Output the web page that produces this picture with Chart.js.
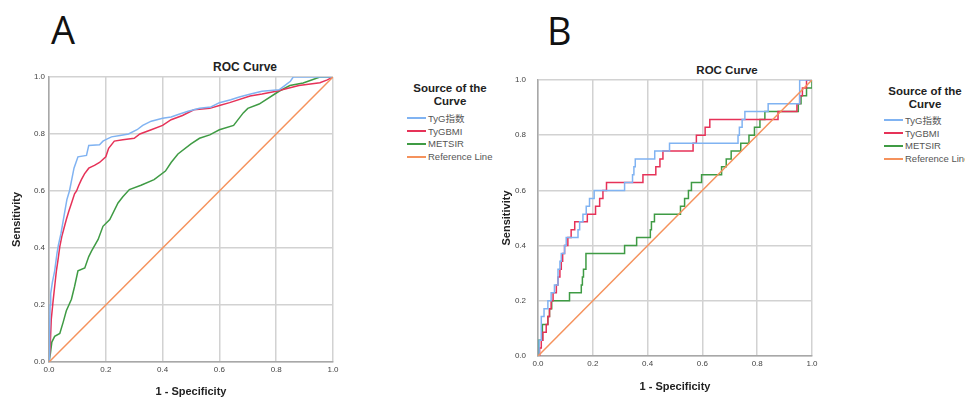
<!DOCTYPE html>
<html lang="en">
<head>
<meta charset="UTF-8" />
<title>ROC Curves</title>
<script src="https://cdn.jsdelivr.net/npm/chart.js"></script>
<style>
  body { margin: 0; background: #fff; font-family: "Liberation Sans", Arial, sans-serif; }
  #wrap { position: relative; width: 965px; height: 400px; overflow: hidden; }
  canvas { position: absolute; top: 0; }
  .letter { position: absolute; font-family: "Open Sans", sans-serif; font-size: 38px; line-height: 1; color: #111; }
  .roc-title { position: absolute; font-weight: bold; color: #222; transform: translateX(-50%); white-space: nowrap; line-height: 1; }
  .legend-title { position: absolute; transform: translateX(-50%); font-weight: bold; font-size: 11.5px;
                  line-height: 12.5px; text-align: center; color: #222; white-space: nowrap; }
  .legend-items { position: absolute; }
  .legend-item { height: 12.8px; display: flex; align-items: center; font-size: 9.5px; color: #555; white-space: nowrap;
                 font-family: "Liberation Sans", Arial, "Noto Sans CJK SC", sans-serif; }
  .legend-item span.swatch { display: inline-block; width: 19px; height: 2px; margin-right: 2px; }
</style>
</head>
<body>
<div id="wrap">
  <div class="letter" style="left:51px; top:10px;">A</div>
  <div class="letter" style="left:547px; top:11px;">B</div>

  <div class="roc-title" style="left:245px; top:61px; font-size:12px;">ROC Curve</div>
  <div class="roc-title" style="left:727px; top:65px; font-size:11.5px;">ROC Curve</div>

  <div class="legend-title" style="left:450px; top:82px;">Source of the<br>Curve</div>
  <div class="legend-items" id="legendA" style="left:407px; top:112px;"></div>
  <div class="legend-title" style="left:925px; top:85px;">Source of the<br>Curve</div>
  <div class="legend-items" id="legendB" style="left:884px; top:114px;"></div>

  <canvas id="chartA" width="345" height="400" style="left:0px;"></canvas>
  <canvas id="chartB" width="332" height="400" style="left:494px;"></canvas>
</div>

<script>
  // tick values shared by both axes of both panels
  const tickValues = [0, 0.2, 0.4, 0.6, 0.8, 1.0];
  const seriesNames = ["TyG指数", "TyGBMI", "METSIR", "Reference Line"];
  const seriesColors = ["#80b3f2", "#e63258", "#3f9b44", "#f5925c"];

  // Panel A (1 - specificity, sensitivity)
  const aTygFpr = [0, 0.002, 0.004, 0.006, 0.012, 0.02, 0.028, 0.033, 0.042, 0.049, 0.056, 0.063, 0.072, 0.08, 0.088,
                   0.095, 0.102, 0.132, 0.14, 0.178, 0.19, 0.2, 0.22, 0.25, 0.28, 0.31, 0.33, 0.36, 0.4, 0.43, 0.46,
                   0.49, 0.53, 0.57, 0.6, 0.64, 0.67, 0.71, 0.75, 0.81, 0.83, 0.85, 0.86, 1.0];
  const aTygTpr = [0, 0.1, 0.2, 0.24, 0.28, 0.32, 0.38, 0.41, 0.45, 0.49, 0.53, 0.57, 0.6, 0.64, 0.68,
                   0.7, 0.72, 0.725, 0.76, 0.762, 0.775, 0.78, 0.79, 0.795, 0.8, 0.815, 0.83, 0.845, 0.855, 0.86, 0.87,
                   0.88, 0.89, 0.895, 0.91, 0.92, 0.93, 0.94, 0.95, 0.955, 0.97, 0.985, 1.0, 1.0];

  const aBmiFpr = [0, 0.004, 0.008, 0.014, 0.02, 0.026, 0.032, 0.038, 0.045, 0.053, 0.061, 0.07, 0.08, 0.09, 0.097,
                   0.105, 0.114, 0.125, 0.14, 0.16, 0.178, 0.2, 0.21, 0.23, 0.26, 0.3, 0.32, 0.36, 0.4, 0.43, 0.47,
                   0.51, 0.566, 0.6, 0.636, 0.708, 0.75, 0.8, 0.88, 0.954, 0.98, 1.0];
  const aBmiTpr = [0, 0.05, 0.15, 0.21, 0.265, 0.32, 0.36, 0.405, 0.44, 0.47, 0.5, 0.53, 0.56, 0.59, 0.6,
                   0.62, 0.64, 0.66, 0.68, 0.69, 0.7, 0.72, 0.75, 0.775, 0.78, 0.785, 0.8, 0.815, 0.83, 0.85, 0.865,
                   0.885, 0.89, 0.9, 0.91, 0.933, 0.94, 0.95, 0.97, 0.98, 0.99, 1.0];

  const aMetFpr = [0, 0.005, 0.01, 0.02, 0.038, 0.05, 0.061, 0.079, 0.09, 0.102, 0.126, 0.14, 0.15, 0.173, 0.19,
                   0.214, 0.243, 0.26, 0.283, 0.324, 0.37, 0.41, 0.43, 0.454, 0.5, 0.53, 0.566, 0.6, 0.65, 0.684,
                   0.7, 0.74, 0.81, 0.848, 0.895, 0.954, 1.0];
  const aMetTpr = [0, 0.03, 0.07, 0.09, 0.1, 0.14, 0.18, 0.22, 0.265, 0.32, 0.33, 0.37, 0.39, 0.43, 0.476,
                   0.5, 0.558, 0.58, 0.605, 0.62, 0.64, 0.67, 0.7, 0.73, 0.765, 0.785, 0.797, 0.815, 0.83, 0.874,
                   0.89, 0.905, 0.95, 0.97, 0.979, 1.0, 1.0];

  // Panel B (points where each step rises)
  const bTygFpr = [0, 0.004, 0.012, 0.022, 0.036, 0.048, 0.06, 0.073, 0.08, 0.085, 0.097, 0.103, 0.146, 0.152, 0.164,
                   0.176, 0.188, 0.205, 0.316, 0.345, 0.35, 0.355, 0.426, 0.48, 0.73, 0.735, 0.745, 0.755, 0.84,
                   0.955, 1.0];
  const bTygTpr = [0, 0.057, 0.143, 0.171, 0.2, 0.229, 0.257, 0.314, 0.343, 0.371, 0.4, 0.429, 0.457, 0.486, 0.514,
                   0.543, 0.571, 0.6, 0.629, 0.657, 0.686, 0.714, 0.743, 0.771, 0.8, 0.829, 0.857, 0.886, 0.914,
                   1.0, 1.0];

  const bBmiFpr = [0, 0.006, 0.012, 0.018, 0.03, 0.036, 0.042, 0.048, 0.055, 0.067, 0.073, 0.08, 0.085, 0.09, 0.097,
                   0.109, 0.121, 0.134, 0.18, 0.21, 0.225, 0.237, 0.25, 0.383, 0.43, 0.445, 0.456, 0.566, 0.578,
                   0.61, 0.627, 0.876, 0.945, 0.955, 0.965, 0.98, 1.0];
  const bBmiTpr = [0, 0.029, 0.057, 0.086, 0.114, 0.143, 0.171, 0.2, 0.229, 0.257, 0.286, 0.314, 0.343, 0.371, 0.4,
                   0.429, 0.457, 0.486, 0.514, 0.543, 0.571, 0.6, 0.629, 0.657, 0.686, 0.714, 0.743, 0.771, 0.8,
                   0.829, 0.857, 0.886, 0.914, 0.943, 0.971, 1.0, 1.0];

  const bMetFpr = [0, 0.002, 0.016, 0.036, 0.042, 0.05, 0.115, 0.158, 0.162, 0.166, 0.175, 0.316, 0.36, 0.41, 0.414,
                   0.425, 0.52, 0.535, 0.549, 0.56, 0.597, 0.67, 0.687, 0.705, 0.74, 0.77, 0.79, 0.81, 0.828,
                   0.95, 0.96, 0.98, 1.0];
  const bMetTpr = [0, 0.057, 0.114, 0.143, 0.171, 0.2, 0.229, 0.257, 0.286, 0.314, 0.371, 0.4, 0.429, 0.457, 0.486,
                   0.514, 0.543, 0.571, 0.6, 0.629, 0.657, 0.686, 0.714, 0.743, 0.771, 0.8, 0.829, 0.857, 0.886,
                   0.914, 0.943, 0.971, 1.0];

  const refFpr = [0, 1];
  const refTpr = [0, 1];

  const FONT = "'Liberation Sans', Arial, sans-serif";

  function toPoints(xs, ys) {
    return xs.map((x, i) => ({ x: x, y: ys[i] }));
  }

  function buildLegend(id) {
    const box = document.getElementById(id);
    seriesNames.forEach((name, i) => {
      const row = document.createElement("div");
      row.className = "legend-item";
      row.innerHTML = `<span class="swatch" style="background:${seriesColors[i]}"></span>${name}`;
      box.appendChild(row);
    });
  }

  function makeChart(canvasId, curves, stepped, box) {
    const datasets = curves.map((c, i) => ({
      label: seriesNames[i],
      data: toPoints(c[0], c[1]),
      showLine: true,
      borderColor: seriesColors[i],
      borderWidth: 1.5,
      pointRadius: 0,
      fill: false,
      // 'before': run across at the old sensitivity, then rise at the new x
      stepped: (stepped && i < 3) ? 'before' : false,
      order: i === 3 ? 0 : i + 1
    }));

    const axisCommon = {
      type: 'linear',
      min: 0,
      max: 1,
      afterBuildTicks: s => { s.ticks = tickValues.map(v => ({ value: v })); },
      grid: { color: '#d2d2d2', lineWidth: 1.5, drawTicks: false },
      border: { color: '#a8a8a8', width: 1.5 }
    };

    return new Chart(document.getElementById(canvasId), {
      type: 'scatter',
      data: { datasets },
      options: {
        responsive: false,
        animation: false,
        layout: { padding: { top: box.top, right: box.right, left: 0, bottom: 0 } },
        plugins: { legend: { display: false }, tooltip: { enabled: false } },
        scales: {
          x: Object.assign({}, axisCommon, {
            afterFit: s => { s.height = box.xAxis; },
            ticks: { callback: v => v.toFixed(1), font: { size: 8, family: FONT }, color: '#444',
                     padding: 3, maxRotation: 0, autoSkip: false },
            title: { display: true, text: '1 - Specificity', color: '#222',
                     font: { size: 11, weight: 'bold', family: FONT },
                     padding: { top: 0, bottom: box.xTitle } }
          }),
          y: Object.assign({}, axisCommon, {
            afterFit: s => { s.width = box.yAxis; },
            ticks: { callback: v => v.toFixed(1), font: { size: 8, family: FONT }, color: '#444',
                     padding: box.yTickPad, autoSkip: false },
            title: { display: true, text: 'Sensitivity', color: '#222',
                     font: { size: 11, weight: 'bold', family: FONT },
                     padding: { top: box.yTitle, bottom: 0 } }
          })
        }
      }
    });
  }

  buildLegend("legendA");
  buildLegend("legendB");

  makeChart("chartA", [
    [aTygFpr, aTygTpr], [aBmiFpr, aBmiTpr], [aMetFpr, aMetTpr], [refFpr, refTpr]
  ], false, { top: 77, right: 12, xAxis: 38, yAxis: 49, xTitle: 1.4, yTitle: 10.4, yTickPad: 4 });

  makeChart("chartB", [
    [bTygFpr, bTygTpr], [bBmiFpr, bBmiTpr], [bMetFpr, bMetTpr], [refFpr, refTpr]
  ], true, { top: 80, right: 14, xAxis: 44, yAxis: 44, xTitle: 6.4, yTitle: 6.4, yTickPad: 12 });
</script>
</body>
</html>
